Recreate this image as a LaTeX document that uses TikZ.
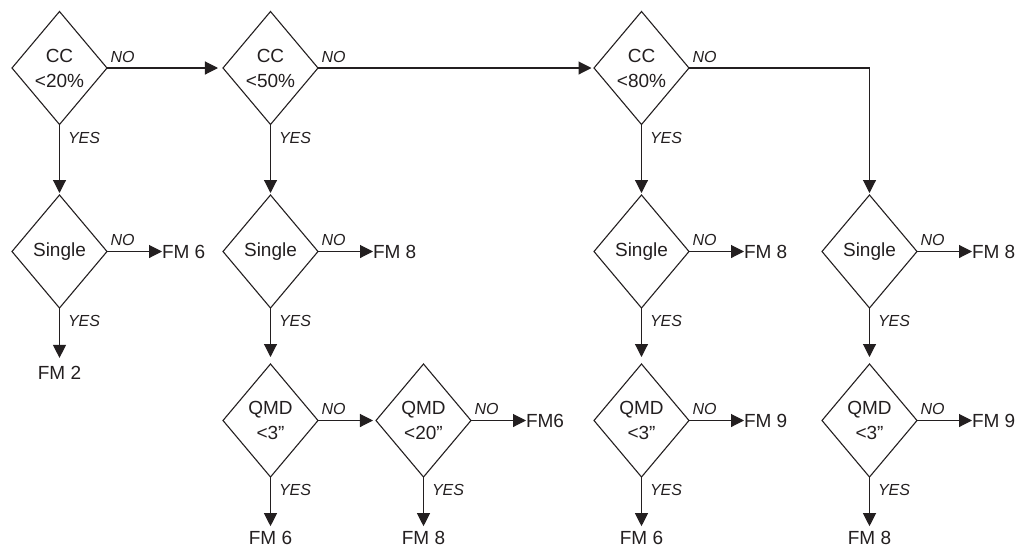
\documentclass[tikz,border=0pt]{standalone}
\usepackage{fontspec}
\setmainfont{Liberation Sans}
\usetikzlibrary{shapes.geometric,arrows.meta,positioning}
\definecolor{ink}{HTML}{231F20}
\begin{document}
\begin{tikzpicture}[x=1pt,y=-1pt,
  dec/.style={diamond, draw=ink, text=ink, line width=1.1pt, minimum width=95pt, minimum height=113pt,
    inner sep=0pt, outer sep=0pt, align=center, font=\fontsize{19}{25}\selectfont},
  term/.style={inner sep=0pt, outer sep=0pt, text=ink, font=\fontsize{19}{23}\selectfont},
  arr/.style={draw=ink, line width=1.1pt, -{Triangle[length=13pt,width=13pt]}},
  yes/.style={anchor=north west, inner sep=0pt, xshift=8pt, yshift=-7pt, text=ink,
    font=\fontsize{16}{19}\selectfont\itshape},
  no/.style={anchor=south west, inner sep=0pt, xshift=3pt, yshift=5pt, text=ink,
    font=\fontsize{16}{19}\selectfont\itshape}
]
\useasboundingbox (0,0) rectangle (1021,547);

% decision nodes
\node[dec] (c1) at (59.5,68) {CC\\<20\%};
\node[dec] (c2) at (270.5,68) {CC\\<50\%};
\node[dec] (c3) at (641.5,68) {CC\\<80\%};
\node[dec] (s1) at (59.5,251.5) {Single};
\node[dec] (s2) at (270.5,251.5) {Single};
\node[dec] (s3) at (641.5,251.5) {Single};
\node[dec] (s4) at (869.5,251.5) {Single};
\node[dec] (q2) at (270.5,420.5) {QMD\\<3”};
\node[dec] (q2b) at (423.5,420.5) {QMD\\<20”};
\node[dec] (q3) at (641.5,420.5) {QMD\\<3”};
\node[dec] (q4) at (869.5,420.5) {QMD\\<3”};

% terminal nodes
\node[term, right=55pt of s1] (t1) {FM 6};
\node[term, below=58.4pt of s1] (t2) {FM 2};
\node[term, right=55pt of s2] (t3) {FM 8};
\node[term, right=55pt of s3] (t4) {FM 8};
\node[term, right=55pt of s4] (t5) {FM 8};
\node[term, below=54.2pt of q2] (t6) {FM 6};
\node[term, below=54.2pt of q2b] (t7) {FM 8};
\node[term, right=55pt of q2b] (t8) {FM6};
\node[term, below=54.2pt of q3] (t9) {FM 6};
\node[term, right=55pt of q3] (t10) {FM 9};
\node[term, below=54.2pt of q4] (t11) {FM 8};
\node[term, right=55pt of q4] (t12) {FM 9};

% top row
\draw[arr, shorten >=5pt] (c1) -- (c2) node[no,pos=0]{NO};
\draw[arr, shorten >=2.5pt] (c2) -- (c3) node[no,pos=0]{NO};
\draw[arr, shorten >=2pt] (c3.east) -| (s4.north) node[no,pos=0]{NO};
\draw[arr, shorten >=2pt] (c1) -- (s1) node[yes,pos=0]{YES};
\draw[arr, shorten >=2pt] (c2) -- (s2) node[yes,pos=0]{YES};
\draw[arr, shorten >=2pt] (c3) -- (s3) node[yes,pos=0]{YES};

% column 1
\draw[arr] (s1) -- (t1) node[no,pos=0]{NO};
\draw[arr, shorten >=8.5pt] (s1) -- (t2) node[yes,pos=0]{YES};

% column 2
\draw[arr] (s2) -- (t3) node[no,pos=0]{NO};
\draw[arr, shorten >=7pt] (s2) -- (q2) node[yes,pos=0]{YES};
\draw[arr, shorten >=3pt] (q2) -- (q2b) node[no,pos=0]{NO};
\draw[arr, shorten >=5pt] (q2) -- (t6) node[yes,pos=0]{YES};
\draw[arr] (q2b) -- (t8) node[no,pos=0]{NO};
\draw[arr, shorten >=5pt] (q2b) -- (t7) node[yes,pos=0]{YES};

% column 3
\draw[arr] (s3) -- (t4) node[no,pos=0]{NO};
\draw[arr, shorten >=7pt] (s3) -- (q3) node[yes,pos=0]{YES};
\draw[arr] (q3) -- (t10) node[no,pos=0]{NO};
\draw[arr, shorten >=5pt] (q3) -- (t9) node[yes,pos=0]{YES};

% column 4
\draw[arr] (s4) -- (t5) node[no,pos=0]{NO};
\draw[arr, shorten >=7pt] (s4) -- (q4) node[yes,pos=0]{YES};
\draw[arr] (q4) -- (t12) node[no,pos=0]{NO};
\draw[arr, shorten >=5pt] (q4) -- (t11) node[yes,pos=0]{YES};
\end{tikzpicture}
\end{document}
